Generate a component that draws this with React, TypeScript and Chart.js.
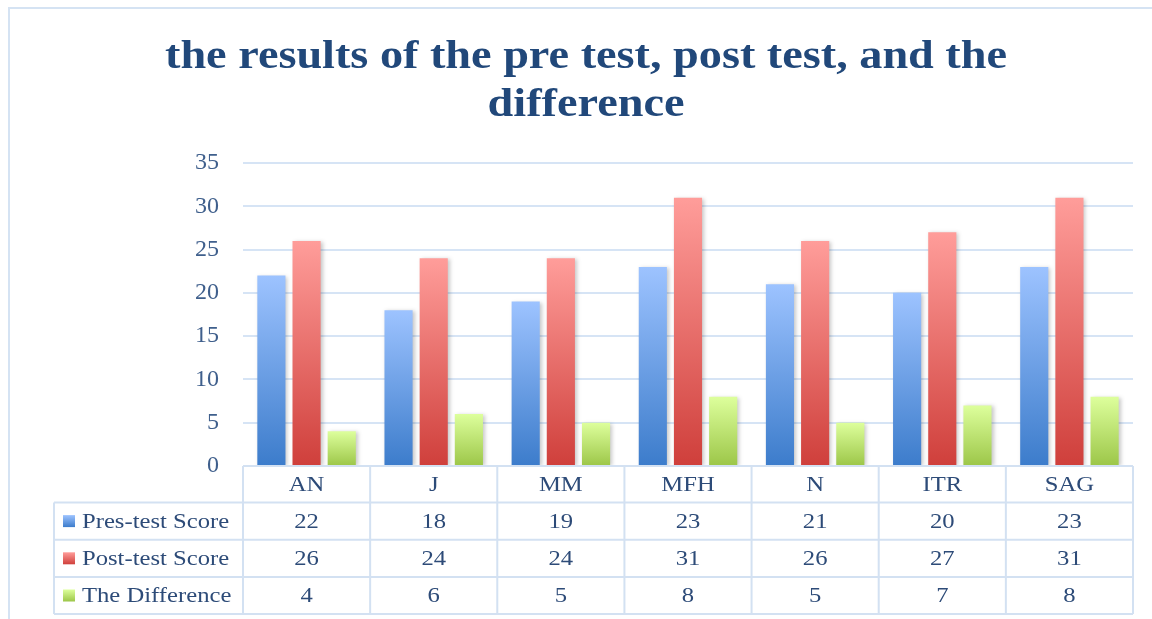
import { useEffect, useRef } from "react";
import { Chart, registerables } from "chart.js";

Chart.register(...registerables);

const categories = ["AN", "J", "MM", "MFH", "N", "ITR", "SAG"];
const preTest = [22, 18, 19, 23, 21, 20, 23];
const postTest = [26, 24, 24, 31, 26, 27, 31];
const difference = [4, 6, 5, 8, 5, 7, 8];
const seriesNames = ["Pres-test Score", "Post-test Score", "The Difference"];
const titleLines = ["the results of the pre test, post test, and the", "difference"];

const FONT = "'Liberation Serif', 'DejaVu Serif', serif";
const gradTops = ["#9dc3ff", "#ff9d9a", "#ddff9c"];
const gradBottoms = ["#3c7ccb", "#cf3f3b", "#9cc648"];

function barGradient(top: string, bottom: string) {
  return (ctx: any) => {
    const chart = ctx.chart;
    const { chartArea, scales } = chart;
    if (!chartArea || ctx.type !== "data" || !scales.y) return bottom;
    const y0 = scales.y.getPixelForValue(0);
    const y1 = scales.y.getPixelForValue(ctx.raw);
    if (!isFinite(y0) || !isFinite(y1) || y0 === y1) return bottom;
    const g = chart.ctx.createLinearGradient(0, y1, 0, y0);
    g.addColorStop(0, top);
    g.addColorStop(1, bottom);
    return g;
  };
}

function wideText(c: CanvasRenderingContext2D, text: string, x: number, y: number, sx: number, align: "left" | "center") {
  c.save();
  c.translate(x, y);
  c.scale(sx, 1);
  c.textAlign = align;
  c.fillText(text, 0, 0);
  c.restore();
}

const decorPlugin = {
  id: "decor",
  beforeDraw(chart: any) {
    const c = chart.ctx;
    c.save();
    c.fillStyle = "#ffffff";
    c.fillRect(0, 0, chart.width, chart.height);
    c.strokeStyle = "#d5e3f3";
    c.lineWidth = 2;
    c.strokeRect(9, 8, chart.width + 20, chart.height + 20);
    c.fillStyle = "#21487a";
    c.font = `bold 40px ${FONT}`;
    c.textBaseline = "middle";
    const w0 = c.measureText(titleLines[0]).width;
    const sx = 842 / w0;
    titleLines.forEach((line, i) => wideText(c, line, 586, 58 + i * 48, sx, "center"));
    c.restore();
  },
  beforeDatasetsDraw(chart: any) {
    const c = chart.ctx;
    c.save();
    c.shadowColor = "rgba(0,0,0,0.22)";
    c.shadowBlur = 4;
    c.shadowOffsetX = 2;
    c.shadowOffsetY = 1;
  },
  afterDatasetsDraw(chart: any) {
    chart.ctx.restore();
  },
  afterDraw(chart: any) {
    const c = chart.ctx;
    const xs = chart.scales.x;
    const area = chart.chartArea;
    const n = categories.length;
    const colW = (area.right - area.left) / n;
    const top = area.bottom;
    const catH = 36.5;
    const rowH = 37.2;
    const legendLeft = 54;
    const rows = [preTest, postTest, difference];
    const bottom = top + catH + rowH * rows.length;
    c.save();
    c.strokeStyle = "#d3e1f2";
    c.lineWidth = 2;
    c.beginPath();
    c.moveTo(area.left, top);
    c.lineTo(area.right, top);
    for (let r = 0; r <= rows.length; r++) {
      const y = top + catH + r * rowH;
      c.moveTo(legendLeft, y);
      c.lineTo(area.right, y);
    }
    c.moveTo(legendLeft, top + catH);
    c.lineTo(legendLeft, bottom);
    for (let i = 0; i <= n; i++) {
      const x = i < n ? xs.getPixelForValue(i) - colW / 2 : xs.getPixelForValue(n - 1) + colW / 2;
      c.moveTo(x, top);
      c.lineTo(x, bottom);
    }
    c.stroke();

    const sx = 1.12;
    c.fillStyle = "#2d4b78";
    c.font = `22px ${FONT}`;
    c.textBaseline = "middle";
    categories.forEach((cat, i) => {
      wideText(c, cat, xs.getPixelForValue(i), top + catH / 2 + 1, sx, "center");
    });
    rows.forEach((vals, r) => {
      const cy = top + catH + r * rowH + rowH / 2 + 1;
      vals.forEach((v, i) => {
        wideText(c, String(v), xs.getPixelForValue(i), cy, sx, "center");
      });
    });
    seriesNames.forEach((name, r) => {
      const cy = top + catH + r * rowH + rowH / 2;
      const g = c.createLinearGradient(0, cy - 6, 0, cy + 6);
      g.addColorStop(0, gradTops[r]);
      g.addColorStop(1, gradBottoms[r]);
      c.fillStyle = g;
      c.fillRect(63, cy - 6, 12, 12);
      c.fillStyle = "#2d4b78";
      wideText(c, name, 82, cy + 1, sx, "left");
    });
    c.restore();
  },
};

export default function App() {
  const ref = useRef<HTMLCanvasElement | null>(null);
  useEffect(() => {
    if (!ref.current) return;
    const datasets = [preTest, postTest, difference].map((d, i) => ({
      label: seriesNames[i],
      data: d,
      backgroundColor: barGradient(gradTops[i], gradBottoms[i]),
      borderWidth: 0,
      categoryPercentage: 0.83,
      barPercentage: 0.8,
    }));
    const chart = new Chart(ref.current, {
      type: "bar",
      data: { labels: categories, datasets },
      options: {
        responsive: false,
        animation: false,
        devicePixelRatio: 1,
        layout: { padding: { left: 0, right: 19, top: 163, bottom: 153 } },
        plugins: {
          legend: { display: false },
          title: { display: false },
          tooltip: { enabled: false },
        },
        scales: {
          x: { display: false },
          y: {
            min: 0,
            max: 35,
            ticks: {
              stepSize: 5,
              padding: 24,
              color: "#3f5f8c",
              font: { family: FONT, size: 24 },
            },
            grid: { color: "#d6e4f5", lineWidth: 2, drawTicks: false },
            border: { display: false },
            afterFit: (s: any) => {
              s.width = 243;
            },
          },
        },
      },
      plugins: [decorPlugin],
    });
    return () => chart.destroy();
  }, []);
  return (
    <div style={{ position: "fixed", left: 0, top: 0, width: 1152, height: 619 }}>
      <canvas ref={ref} width={1152} height={619} style={{ width: 1152, height: 619, display: "block" }} />
    </div>
  );
}
